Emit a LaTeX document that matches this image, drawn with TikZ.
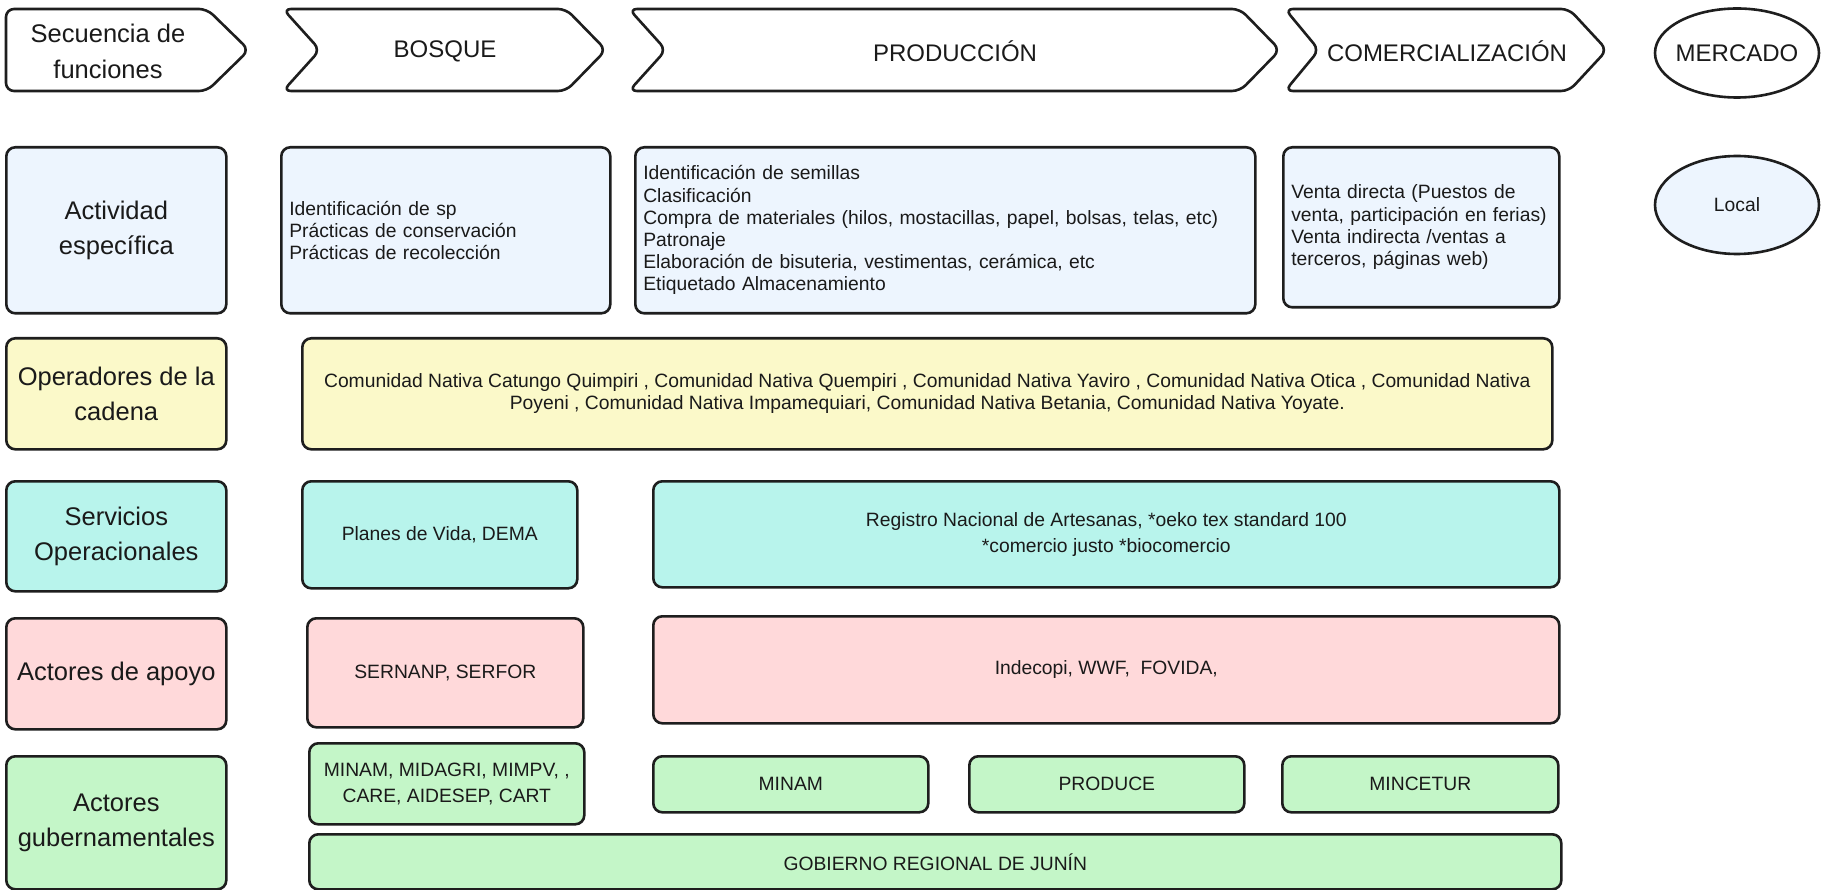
\documentclass[tikz,border=0pt]{standalone}
\usepackage{fontspec}
\setmainfont{Liberation Sans}
\usetikzlibrary{shapes.geometric}
\definecolor{linec}{HTML}{1E1E1E}
\definecolor{textc}{HTML}{1A1A1A}
\definecolor{actfill}{HTML}{EDF5FE}
\definecolor{opfill}{HTML}{FBF9C9}
\definecolor{serfill}{HTML}{B8F4EC}
\definecolor{apofill}{HTML}{FFD9DA}
\definecolor{gubfill}{HTML}{C4F6C8}
\tikzset{
  base/.style={draw=linec, line width=2.6pt, rounded corners=9pt, inner sep=0pt, text=textc, anchor=north west},
  lab/.style={base, font=\fontsize{25.5}{35}\selectfont, align=center},
  ctr/.style={base, font=\fontsize{19.3}{22.2}\selectfont, align=center},
  ctrwide/.style={base, font=\fontsize{19.3}{26}\selectfont, align=center},
  lft/.style={base, font=\fontsize{19.3}{22.2}\selectfont, align=left, inner xsep=8pt},
  chev/.style={draw=linec, line width=2.6pt, rounded corners=8pt, fill=white, line join=round},
  chevtxt/.style={font=\fontsize{24}{28}\selectfont, text=textc, align=center, inner sep=0pt},
  ell/.style={ellipse, draw=linec, line width=2.6pt, inner sep=0pt},
}
\begin{document}
\begin{tikzpicture}[x=1pt,y=-1pt]
\fill[white] (0,0) rectangle (1825,890);
\useasboundingbox (0,0) rectangle (1825,890);

% header chevrons
\draw[chev] (6,9) -- (207,9) -- (249,50) -- (207,91) -- (6,91) -- cycle;
\node[chevtxt, font=\fontsize{25.5}{36}\selectfont] (secuencia) at (108,51) {Secuencia de\\funciones};
\draw[chev] (283,9) -- (566,9) -- (606,50) -- (566,91) -- (283,91) -- (320,50) -- cycle;
\node[chevtxt] (bosque) at (445,51) {BOSQUE};
\draw[chev] (629,9) -- (1240,9) -- (1280,50) -- (1240,91) -- (629,91) -- (666,50) -- cycle;
\node[chevtxt] (produccion) at (955,51) {PRODUCCIÓN};
\draw[chev] (1285,9) -- (1569,9) -- (1607,50) -- (1569,91) -- (1285,91) -- (1319,50) -- cycle;
\node[chevtxt] (comerc) at (1447,51) {COMERCIALIZACIÓN};
\node[ell, minimum width=164pt, minimum height=89pt] (mercado) at (1737,53) {};
\node[chevtxt] (mercadotxt) at (mercado.center) {MERCADO};

% row: actividad
\node[lab, fill=actfill, minimum width=220pt, minimum height=166pt] (lact) at (5,146) {Actividad\\específica};
\node[lft, fill=actfill, minimum width=329pt, minimum height=166pt, text width=313pt] (actbos) at (280,146)
  {Identificación de sp\\Prácticas de conservación\\Prácticas de recolección};
\node[lft, fill=actfill, minimum width=620pt, minimum height=166pt, text width=604pt] (actprod) at (634,146)
  {Identificación de semillas\\Clasificación\\Compra de materiales (hilos, mostacillas, papel, bolsas, telas, etc)\\Patronaje\\Elaboración de bisuteria, vestimentas, cerámica, etc\\Etiquetado Almacenamiento};
\node[lft, fill=actfill, minimum width=276pt, minimum height=160pt, text width=260pt] (actcom) at (1282,146)
  {Venta directa (Puestos de\\venta, participación en ferias)\\Venta indirecta /ventas a\\terceros, páginas web)};
\node[ell, fill=actfill, minimum width=164pt, minimum height=98pt] (local) at (1737,205) {};
\node[chevtxt, font=\fontsize{19.3}{22}\selectfont] (localtxt) at (local.center) {Local};

% row: operadores
\node[lab, fill=opfill, minimum width=220pt, minimum height=111pt] (lop) at (5,337) {Operadores de la\\cadena};
\node[ctr, fill=opfill, minimum width=1250pt, minimum height=111pt] (ops) at (301,337)
  {Comunidad Nativa Catungo Quimpiri , Comunidad Nativa Quempiri , Comunidad Nativa Yaviro , Comunidad Nativa Otica , Comunidad Nativa\\Poyeni , Comunidad Nativa Impamequiari, Comunidad Nativa Betania, Comunidad Nativa Yoyate.};

% row: servicios
\node[lab, fill=serfill, minimum width=220pt, minimum height=110pt] (lser) at (5,480) {Servicios\\Operacionales};
\node[ctr, fill=serfill, minimum width=275pt, minimum height=107pt] (serbos) at (301,480) {Planes de Vida, DEMA};
\node[ctrwide, fill=serfill, minimum width=906pt, minimum height=106pt] (serprod) at (652,480)
  {Registro Nacional de Artesanas, *oeko tex standard 100\\*comercio justo *biocomercio};

% row: apoyo
\node[lab, fill=apofill, minimum width=220pt, minimum height=111pt] (lapo) at (5,617) {Actores de apoyo};
\node[ctr, fill=apofill, minimum width=276pt, minimum height=109pt] (apobos) at (306,617) {SERNANP, SERFOR};
\node[ctr, fill=apofill, minimum width=906pt, minimum height=107pt] (apoprod) at (652,615) {Indecopi, WWF,\ \ FOVIDA,};

% row: gubernamentales
\node[lab, fill=gubfill, minimum width=220pt, minimum height=133pt] (lgub) at (5,755) {Actores\\gubernamentales};
\node[ctrwide, fill=gubfill, minimum width=275pt, minimum height=81pt] (gubbos) at (308,742) {MINAM, MIDAGRI, MIMPV, ,\\CARE, AIDESEP, CART};
\node[ctr, fill=gubfill, minimum width=275pt, minimum height=56pt] (minam) at (652,755) {MINAM};
\node[ctr, fill=gubfill, minimum width=275pt, minimum height=56pt] (produce) at (968,755) {PRODUCE};
\node[ctr, fill=gubfill, minimum width=276pt, minimum height=56pt] (mincetur) at (1281,755) {MINCETUR};
\node[ctr, fill=gubfill, minimum width=1252pt, minimum height=55pt] (gore) at (308,833) {GOBIERNO REGIONAL DE JUNÍN};
\end{tikzpicture}
\end{document}
